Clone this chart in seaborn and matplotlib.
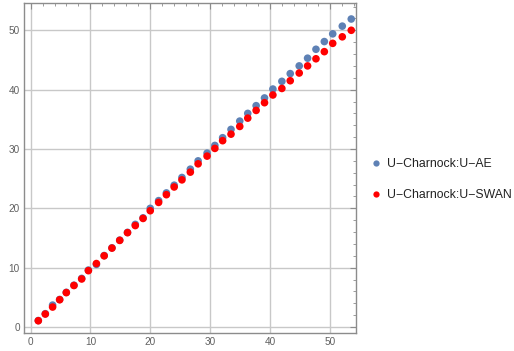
import numpy as np
import pandas as pd
import matplotlib
matplotlib.use("Agg")
import matplotlib.pyplot as plt
import seaborn as sns

# U-Charnock wind speeds (x) and the two comparisons (y)
u_charnock = [1.29, 2.46, 3.68, 4.86, 5.97, 7.25, 8.54, 9.66, 11.0, 12.3,
              13.6, 14.9, 16.2, 17.5, 18.8, 20.0, 21.4, 22.7, 24.0, 25.3,
              26.7, 28.0, 29.5, 30.8, 32.1, 33.5, 34.96, 36.3, 37.7, 39.1,
              40.5, 42.0, 43.4, 44.9, 46.3, 47.7, 49.1, 50.5, 52.1, 53.6]
u_ae = [1.1, 2.25, 3.7, 4.65, 5.85, 7.05, 8.2, 9.6, 10.55, 12.05,
        13.35, 14.65, 15.95, 17.3, 18.4, 20.0, 21.3, 22.6, 23.9, 25.2,
        26.6, 28.0, 29.3, 30.6, 31.9, 33.3, 34.7, 36.0, 37.3, 38.6,
        40.1, 41.4, 42.7, 44.0, 45.3, 46.8, 48.1, 49.4, 50.7, 51.9]
u_swan = [1.06, 2.19, 3.37, 4.6, 5.8, 7.0, 8.1, 9.5, 10.7, 12.0,
          13.3, 14.6, 15.9, 17.1, 18.3, 19.6, 21.0, 22.3, 23.6, 24.8,
          26.1, 27.5, 28.8, 30.1, 31.4, 32.5, 33.8, 35.2, 36.5, 37.8,
          39.1, 40.2, 41.5, 42.8, 44.0, 45.2, 46.4, 47.8, 48.9, 50.0]
series_names = ["U\u2212Charnock:U\u2212AE", "U\u2212Charnock:U\u2212SWAN"]
colors = ["#5E81B5", "#FF0000"]

df = pd.concat([
    pd.DataFrame({"x": u_charnock, "y": u_ae, "series": series_names[0]}),
    pd.DataFrame({"x": u_charnock, "y": u_swan, "series": series_names[1]}),
])

sns.set_style("white")
plt.rcParams["font.family"] = ["Liberation Sans", "DejaVu Sans"]

fig = plt.figure(figsize=(5.14, 3.51), dpi=100)
ax = fig.add_axes([0.0467, 0.0513, 0.646, 0.9402])

sns.scatterplot(data=df, x="x", y="y", hue="series", palette=colors,
                s=30, linewidth=0, ax=ax, legend=False)

ax.set_xlim(-1.1, 54.4)
ax.set_ylim(-1.0, 54.6)
ax.set_xticks(range(0, 51, 10))
ax.set_yticks(range(0, 51, 10))
ax.set_xticks(np.arange(0, 55, 2), minor=True)
ax.set_yticks(np.arange(0, 55, 2), minor=True)
ax.set_xlabel("")
ax.set_ylabel("")
ax.grid(True, which="major", color="#c8c8c8", linewidth=1)
ax.set_axisbelow(True)

for side in ax.spines.values():
    side.set_color("#8c8c8c")
    side.set_linewidth(1)
ax.tick_params(which="both", direction="in", top=True, right=True,
               color="#8c8c8c", labelcolor="#606060", labelsize=7.2, pad=3)
ax.tick_params(which="major", length=4, width=0.8)
ax.tick_params(which="minor", length=2, width=0.6)

# legend placed outside on the right
handles = [plt.Line2D([], [], marker="o", linestyle="", markersize=4.5,
                      markerfacecolor=c, markeredgewidth=0) for c in colors]
fig.legend(handles, series_names, loc="upper left",
           bbox_to_anchor=(0.695, 0.58), frameon=False, fontsize=8.8,
           handletextpad=0.3, labelspacing=1.55, handlelength=1.2,
           labelcolor="#222222")

fig.savefig("out.png", dpi=100)
